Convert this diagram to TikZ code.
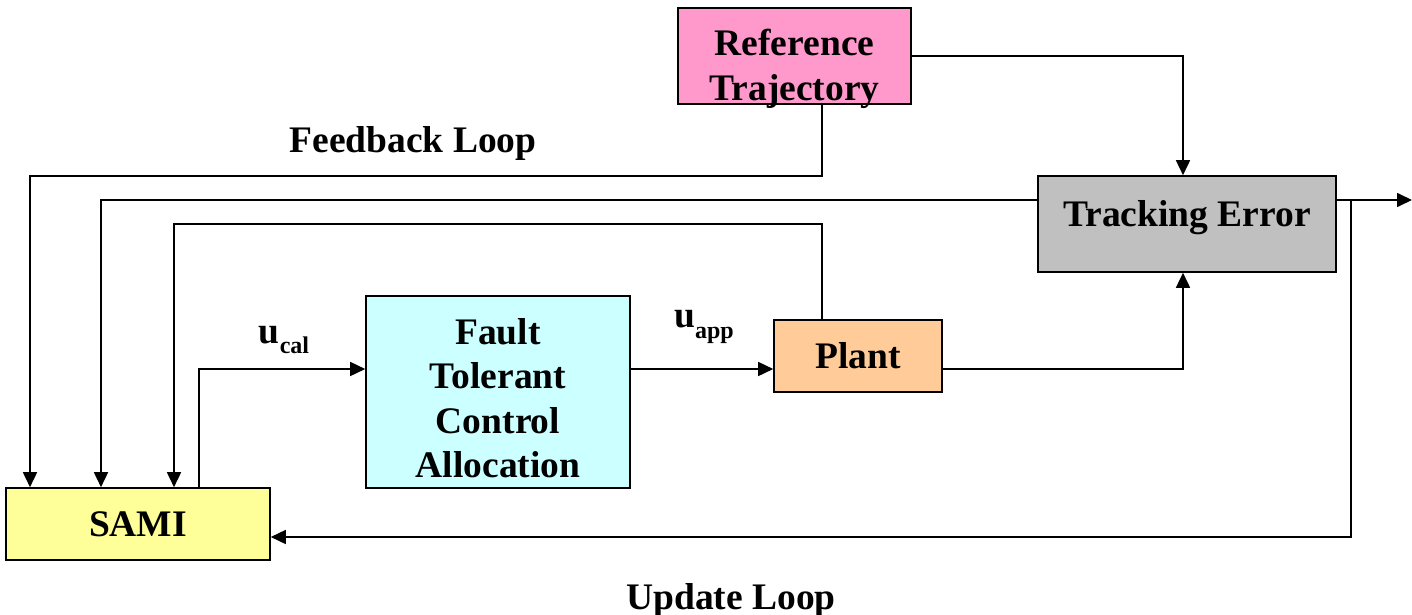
\documentclass[tikz,border=0pt]{standalone}
\usepackage{fontspec}
\setmainfont{Liberation Serif}
\usetikzlibrary{arrows.meta}
\definecolor{pinkbox}{HTML}{FF99CC}
\definecolor{graybox}{HTML}{C0C0C0}
\definecolor{cyanbox}{HTML}{CCFFFF}
\definecolor{orangebox}{HTML}{FFCC99}
\definecolor{yellowbox}{HTML}{FFFF99}
\tikzset{
  blk/.style={draw=black, line width=1.6pt, inner sep=0pt, align=center,
    font=\fontsize{37.5}{44.5}\selectfont\bfseries},
  lbl/.style={inner sep=0pt, align=center, font=\fontsize{37.5}{44.5}\selectfont\bfseries},
  conn/.style={line width=1.6pt, -{Triangle[length=15pt,width=14pt]}},
}
\newcommand{\subtxt}[1]{\raisebox{-0.28em}{\fontsize{24}{24}\selectfont #1}}
\begin{document}
\begin{tikzpicture}[x=1pt,y=-1pt]
\useasboundingbox (0,0) rectangle (1412,615);
\node[blk, fill=pinkbox, minimum width=233pt, minimum height=96pt] (ref) at (794.5,56) {};
\node[lbl] (reftxt) at (794.5,69) {Reference\\Trajectory};
\node[blk, fill=graybox, minimum width=298pt, minimum height=96pt, text depth=22pt] (te) at (1187,224) {Tracking Error};
\node[blk, fill=cyanbox, minimum width=264pt, minimum height=192pt] (ftca) at (498,392) {};
\node[lbl] (ftcatxt) at (498,398) {Fault\\Tolerant\\Control\\Allocation};
\node[blk, fill=orangebox, minimum width=168pt, minimum height=72pt] (plant) at (858,356) {Plant};
\node[blk, fill=yellowbox, minimum width=264pt, minimum height=72pt] (sami) at (138,524) {SAMI};
\node[lbl] (fb) at (413,143) {Feedback Loop};
\node[lbl] (ul) at (731,600) {Update Loop};
\node[lbl] (ucal) at (284,340) {u\subtxt{cal}};
\node[lbl] (uapp) at (704,327) {u\subtxt{app}};
% coordinates
\coordinate (r1) at (1183,56);
\coordinate (c1) at (822,176);
\coordinate (c2) at (30,176);
\coordinate (t1) at (101,200);
\coordinate (p1) at (822,224);
\coordinate (p2) at (174,224);
\coordinate (s1) at (199,369);
\coordinate (q1) at (1183,369);
\coordinate (out) at (1412,200);
\coordinate (u1) at (1351,200);
\coordinate (u2) at (1351,537);
% connectors
\draw[conn] (ref.east |- r1) -- (r1) -- (te.north -| r1);
\draw[conn] (ref.south -| c1) -- (c1) -- (c2) -- (sami.north -| c2);
\draw[conn] (te.west |- t1) -- (t1) -- (sami.north -| t1);
\draw[conn] (plant.north -| p1) -- (p1) -- (p2) -- (sami.north -| p2);
\draw[conn] (sami.north -| s1) -- (s1) -- (ftca.west |- s1);
\draw[conn] (ftca.east |- s1) -- (plant.west |- s1);
\draw[conn] (plant.east |- q1) -- (q1) -- (te.south -| q1);
\draw[conn] (te.east |- out) -- (out);
\draw[conn] (u1) -- (u2) -- (sami.east |- u2);
\end{tikzpicture}
\end{document}
